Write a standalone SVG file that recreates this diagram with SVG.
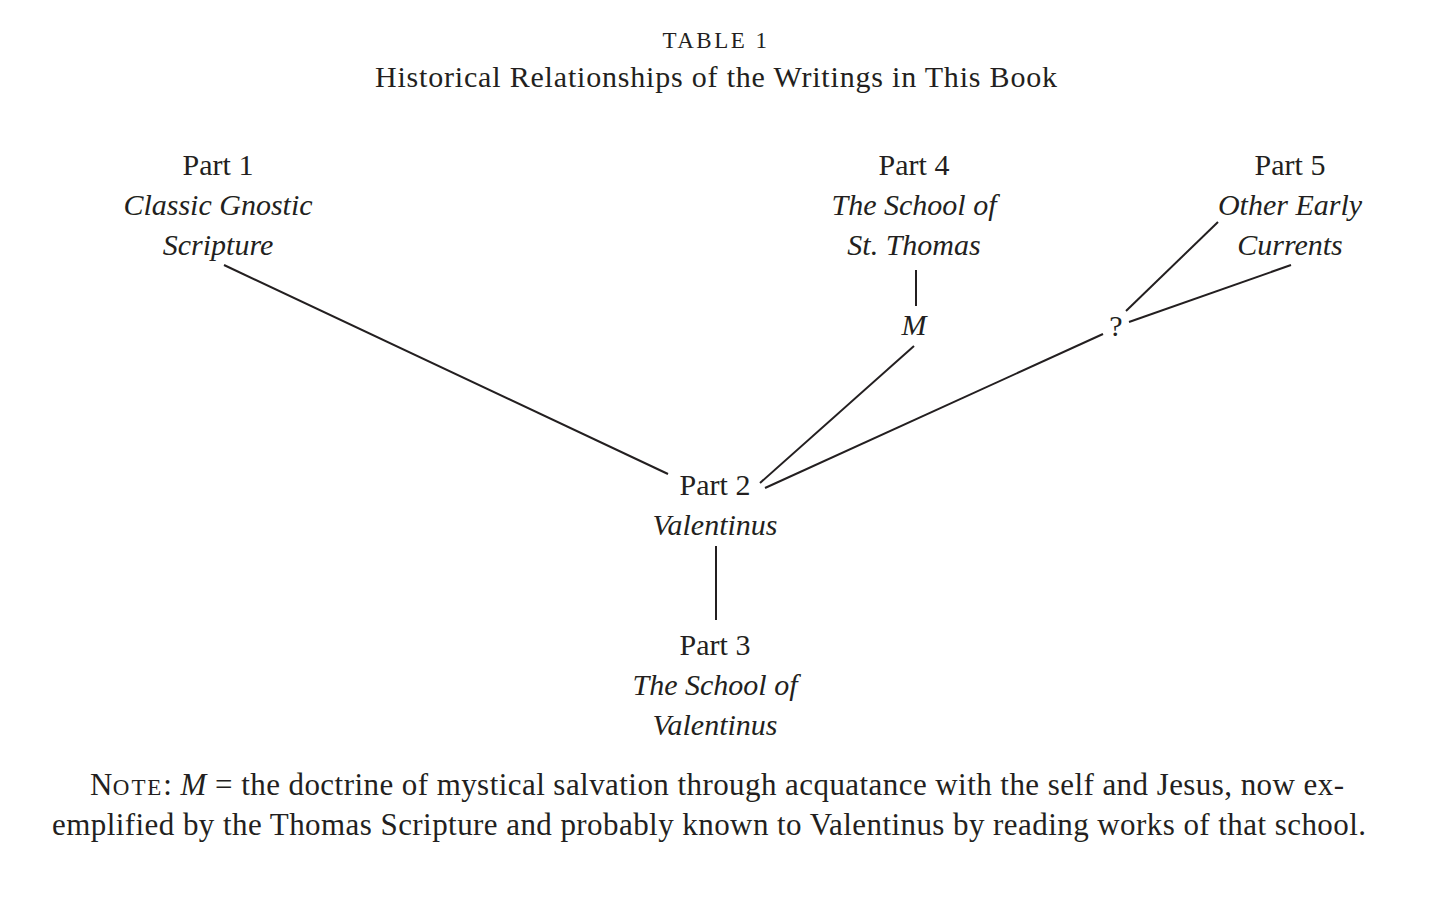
<svg xmlns="http://www.w3.org/2000/svg" width="1456" height="904" viewBox="0 0 1456 904">
<style>
text{font-family:"Liberation Serif","DejaVu Serif",serif;fill:#231f20;font-size:30px;text-anchor:middle}
.i{font-style:italic}
.t{font-size:23px;letter-spacing:2.5px}
.sc{font-size:23px;letter-spacing:1.5px}
.n{font-size:31px}
line{stroke:#231f20;stroke-width:2}
</style>
<rect width="1456" height="904" fill="#fff"/>
<g id="title">
<text x="716" y="48" class="t">TABLE 1</text>
<text x="716" y="87" font-size="32" textLength="682">Historical Relationships of the Writings in This Book</text>
</g>
<g id="connectors">
<line x1="224" y1="265" x2="668" y2="474"/>
<line x1="916" y1="270" x2="916" y2="306"/>
<line x1="914" y1="346" x2="760" y2="483"/>
<line x1="1103" y1="334" x2="765" y2="488"/>
<line x1="1126" y1="311" x2="1218" y2="222"/>
<line x1="1129" y1="322" x2="1291" y2="265"/>
<line x1="716" y1="546" x2="716" y2="620"/>
</g>
<g id="part1">
<text x="218" y="175">Part 1</text>
<text x="218" y="215" class="i">Classic Gnostic</text>
<text x="218" y="255" class="i">Scripture</text>
</g>
<g id="part4">
<text x="914" y="175">Part 4</text>
<text x="914" y="215" class="i">The School of</text>
<text x="914" y="255" class="i">St. Thomas</text>
</g>
<g id="part5">
<text x="1290" y="175">Part 5</text>
<text x="1290" y="215" class="i">Other Early</text>
<text x="1290" y="255" class="i">Currents</text>
</g>
<g id="m">
<text x="914" y="335" class="i">M</text>
</g>
<g id="q">
<text x="1116" y="336" font-size="25">?</text>
</g>
<g id="part2">
<text x="715" y="495">Part 2</text>
<text x="715" y="535" class="i">Valentinus</text>
</g>
<g id="part3">
<text x="715" y="655">Part 3</text>
<text x="715" y="695" class="i">The School of</text>
<text x="715" y="735" class="i">Valentinus</text>
</g>
<g id="note">
<text x="717" y="795" class="n" textLength="1254">N<tspan class="sc">OTE</tspan>: <tspan class="i">M</tspan> = the doctrine of mystical salvation through acquatance with the self and Jesus, now ex-</text>
<text x="709" y="835" class="n" textLength="1314">emplified by the Thomas Scripture and probably known to Valentinus by reading works of that school.</text>
</g>
</svg>
